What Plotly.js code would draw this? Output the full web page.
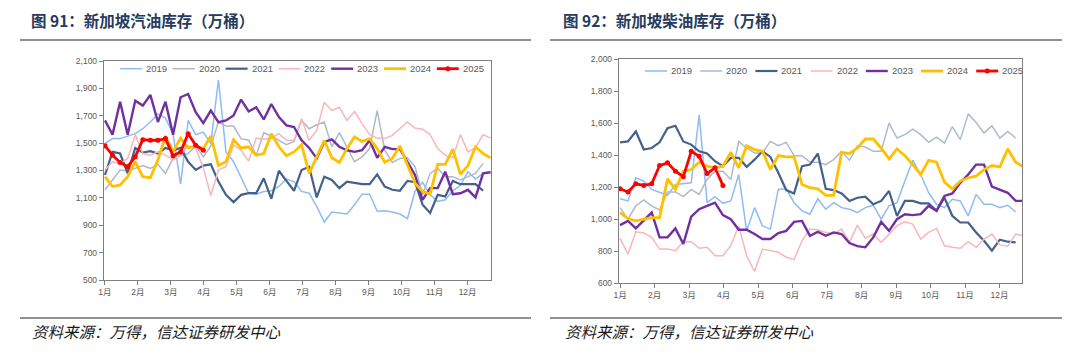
<!DOCTYPE html>
<html>
<head>
<meta charset="utf-8">
<script src="https://cdn.plot.ly/plotly-3.0.1.min.js"></script>
<style>
html,body{margin:0;padding:0;background:#ffffff;}
#chart{width:1080px;height:355px;}
</style>
</head>
<body>
<div id="chart"></div>
<script>
// ---------- data ----------
const years = ['2019','2020','2021','2022','2023','2024','2025'];
const monthLabels = ['1月','2月','3月','4月','5月','6月','7月','8月','9月','10月','11月','12月'];

// Singapore gasoline inventory (10k barrels), weekly
const gas2019 = [1497,1533,1533,1552,1569,1605,1654,1714,1683,1569,1200,1666,1562,1581,1497,1963,1436,1364,1243,1134,1127,1147,1152,1183,1238,1219,1147,1134,1038,924,997,990,982,1050,1127,1127,1002,1006,997,982,948,1147,1214,1122,1074,1086,1152,1190,1291,1238,1279];
const gas2020 = [1159,1231,1304,1296,1316,1336,1316,1345,1279,1388,1412,1424,1480,1400,1480,1654,1625,1625,1533,1521,1412,1576,1552,1521,1489,1513,1666,1605,1634,1654,1473,1576,1473,1364,1400,1460,1738,1448,1359,1388,1393,1328,1122,1279,1316,1255,1255,1231,1255,1279,1352];
const gas2021 = [1267,1436,1424,1279,1465,1431,1441,1424,1465,1448,1465,1364,1304,1336,1345,1219,1122,1069,1122,1134,1134,1243,1093,1298,1224,1152,1304,1328,1103,1255,1231,1171,1219,1207,1200,1200,1272,1183,1159,1152,1224,1214,1050,990,1122,1110,1224,1200,1200,1200,1152];
const gas2022 = [1304,1364,1352,1388,1562,1424,1412,1436,1412,1376,1412,1480,1465,1321,1117,1304,1328,1485,1448,1369,1537,1528,1537,1569,1521,1521,1678,1521,1593,1799,1738,1762,1666,1731,1642,1562,1537,1533,1557,1605,1654,1610,1601,1562,1460,1412,1393,1562,1436,1465,1562,1537];
const gas2023 = [1666,1562,1803,1562,1810,1774,1852,1654,1803,1562,1835,1859,1726,1646,1738,1654,1666,1702,1818,1731,1762,1673,1786,1690,1630,1618,1521,1465,1388,1509,1528,1473,1448,1436,1448,1521,1393,1473,1456,1456,1364,1267,1086,1171,1171,1291,1127,1134,1159,1103,1279,1287];
const gas2024 = [1255,1183,1195,1255,1364,1255,1248,1376,1552,1436,1537,1465,1480,1460,1552,1336,1364,1525,1465,1473,1412,1424,1569,1473,1407,1436,1489,1279,1400,1521,1393,1359,1460,1545,1513,1533,1460,1359,1388,1480,1340,1207,1147,1127,1345,1345,1456,1272,1336,1473,1424,1393];
const gas2025 = [1480,1412,1359,1328,1400,1525,1521,1521,1533,1407,1436,1569,1485,1448];

// Singapore diesel inventory (10k barrels), weekly
const dsl2019 = [1127,1113,1258,1237,1185,1164,1148,1216,1222,1226,1651,1102,1140,1098,1113,1278,926,1071,957,937,1185,1189,1102,1051,1030,1127,1061,1102,1071,1061,1040,1071,1086,999,1082,1102,1237,1367,1278,1164,1092,1071,1123,1113,1019,1154,1092,1092,1071,1086,1044];
const dsl2020 = [1071,999,1082,1119,1082,1057,1169,1169,1140,1185,1154,1247,1299,1299,1247,1485,1444,1413,1413,1485,1458,1479,1396,1396,1355,1355,1340,1371,1423,1367,1458,1450,1423,1423,1599,1506,1527,1562,1527,1479,1512,1475,1578,1496,1657,1603,1537,1583,1506,1547,1506];
const dsl2021 = [1479,1485,1547,1434,1444,1479,1568,1583,1485,1465,1423,1409,1361,1330,1382,1382,1326,1371,1423,1388,1289,1181,1160,1330,1340,1409,1189,1181,1160,1113,1133,1140,1092,1113,1175,1019,1113,1113,1098,1098,1051,1133,1019,978,978,916,864,802,871,858,854];
const dsl2022 = [879,781,920,912,885,812,812,802,858,858,817,823,771,771,833,957,771,672,812,802,792,761,746,864,937,933,916,906,937,854,962,879,906,854,906,957,982,968,875,916,941,833,823,817,858,823,875,906,838,830,906,895];
const dsl2023 = [962,988,941,988,1040,885,885,941,844,1015,1061,1082,1102,1024,999,933,933,906,875,875,912,926,982,988,895,920,895,916,906,850,830,823,885,982,926,999,1030,1024,1030,1082,1051,1144,1160,1226,1278,1340,1340,1202,1185,1164,1113,1113];
const dsl2024 = [1040,1003,988,999,1009,1009,1251,1185,1299,1309,1355,1330,1320,1330,1417,1320,1458,1434,1423,1309,1396,1388,1388,1216,1196,1189,1148,1148,1417,1409,1444,1500,1500,1444,1376,1438,1396,1340,1278,1367,1355,1231,1189,1237,1258,1268,1309,1334,1326,1438,1355,1326];
const dsl2025 = [1189,1169,1220,1210,1220,1334,1351,1299,1264,1423,1392,1284,1320,1210];

const titleLeft = '图 91：新加坡汽油库存（万桶）';
const titleRight = '图 92：新加坡柴油库存（万桶）';
const sourceText = '资料来源：万得，信达证券研发中心';

// ---------- styling ----------
const W = 1080, H = 355;
const px = x => x / W;
const py = y => 1 - y / H;
const colors = ['#8FBBF3','#AEBACB','#44618A','#F9B6BA','#7030A0','#FFC000','#FF0000'];
const widths = [1.5,1.5,2.2,1.5,2.4,2.8,2.8];
const gasSeries = [gas2019,gas2020,gas2021,gas2022,gas2023,gas2024,gas2025];
const dslSeries = [dsl2019,dsl2020,dsl2021,dsl2022,dsl2023,dsl2024,dsl2025];
const weeksPerMonth = 4.36;
const tickPos = monthLabels.map((_, i) => i * weeksPerMonth);

const traces = [];
function addTraces(series, xa, ya) {
  series.forEach((vals, k) => {
    const isLast = k === series.length - 1;
    const tr = {
      type: 'scatter',
      mode: isLast ? 'lines+markers' : 'lines',
      x: vals.map((_, i) => i),
      y: vals,
      xaxis: xa, yaxis: ya,
      name: years[k],
      showlegend: false,
      line: {color: colors[k], width: widths[k]},
      hoverinfo: 'skip'
    };
    if (isLast) tr.marker = {color: colors[k], size: 5};
    traces.push(tr);
  });
}
addTraces(gasSeries, 'x', 'y');
addTraces(dslSeries, 'x2', 'y2');

const tickFont = {family: '"Liberation Sans", Arial, "Noto Sans CJK SC", sans-serif', size: 8.5, color: '#595959'};
const axisLine = '#808080';
function xAxis(domain, range, anchor) {
  return {
    domain, range, anchor,
    tickmode: 'array', tickvals: tickPos, ticktext: monthLabels,
    ticks: 'outside', ticklen: 4, tickwidth: 1, tickcolor: axisLine,
    showline: true, linecolor: axisLine, linewidth: 1.2, mirror: true,
    showgrid: false, zeroline: false, tickfont: tickFont, fixedrange: true
  };
}
function yAxis(domain, range, anchor) {
  return {
    domain, range, anchor,
    tick0: range[0], dtick: 200, tickformat: ',d',
    ticks: 'outside', ticklen: 4, tickwidth: 1, tickcolor: axisLine,
    showline: true, linecolor: axisLine, linewidth: 1.2, mirror: true,
    showgrid: false, zeroline: false, tickfont: tickFont, fixedrange: true
  };
}

const shapes = [];
const annotations = [];
function hline(x0, x1, y, color, w) {
  shapes.push({type: 'line', xref: 'paper', yref: 'paper', x0: px(x0), x1: px(x1), y0: py(y), y1: py(y),
    line: {color: color, width: w}});
}
// title rules and bottom rules
hline(20, 531, 40, '#6d6d6d', 1.6);
hline(550, 1062, 40, '#6d6d6d', 1.6);
hline(20, 531, 318, '#6d6d6d', 1.6);
hline(550, 1062, 318, '#6d6d6d', 1.6);

const titleFont = {family: '"Noto Sans CJK SC", sans-serif', size: 15.5, color: '#263B5E'};
annotations.push({xref: 'paper', yref: 'paper', x: px(29), y: py(20), xanchor: 'left', yanchor: 'middle',
  text: '<b>' + titleLeft + '</b>', showarrow: false, font: titleFont});
annotations.push({xref: 'paper', yref: 'paper', x: px(561), y: py(20), xanchor: 'left', yanchor: 'middle',
  text: '<b>' + titleRight + '</b>', showarrow: false, font: titleFont});

const srcFont = {family: '"Noto Sans CJK SC", sans-serif', size: 15.5, color: '#1a1a1a', style: 'italic'};
annotations.push({xref: 'paper', yref: 'paper', x: px(30), y: py(331), xanchor: 'left', yanchor: 'middle',
  text: sourceText, showarrow: false, font: srcFont});
annotations.push({xref: 'paper', yref: 'paper', x: px(563), y: py(331), xanchor: 'left', yanchor: 'middle',
  text: sourceText, showarrow: false, font: srcFont});

// legends (drawn in layout so they match the compact original spacing)
const legFont = {family: '"Liberation Sans", Arial, sans-serif', size: 9.5, color: '#595959'};
function legend(x0, pitch, y) {
  years.forEach((yr, k) => {
    const a = x0 + k * pitch;
    shapes.push({type: 'line', xref: 'paper', yref: 'paper', x0: px(a), x1: px(a + 22), y0: py(y), y1: py(y),
      line: {color: colors[k], width: widths[k]}});
    if (k === years.length - 1) {
      shapes.push({type: 'circle', xref: 'paper', yref: 'paper', x0: px(a + 8.5), x1: px(a + 13.5),
        y0: py(y + 2.5), y1: py(y - 2.5), fillcolor: colors[k], line: {width: 0}});
    }
    annotations.push({xref: 'paper', yref: 'paper', x: px(a + 24), y: py(y), xanchor: 'left', yanchor: 'middle',
      text: yr, showarrow: false, font: legFont});
  });
}
legend(120, 52.8, 68.7);
legend(645, 55.2, 71);

const layout = {
  width: W, height: H,
  margin: {l: 0, r: 0, t: 0, b: 0},
  paper_bgcolor: '#ffffff', plot_bgcolor: '#ffffff',
  showlegend: false,
  xaxis: xAxis([px(104), px(491)], [-0.13, 51.05], 'y'),
  yaxis: yAxis([py(280), py(61)], [500, 2100], 'x'),
  xaxis2: xAxis([px(619), px(1022)], [-0.13, 50.8], 'y2'),
  yaxis2: yAxis([py(283), py(59)], [600, 2000], 'x2'),
  shapes: shapes, annotations: annotations
};

Plotly.newPlot('chart', traces, layout, {displayModeBar: false, staticPlot: true});
</script>
</body>
</html>
